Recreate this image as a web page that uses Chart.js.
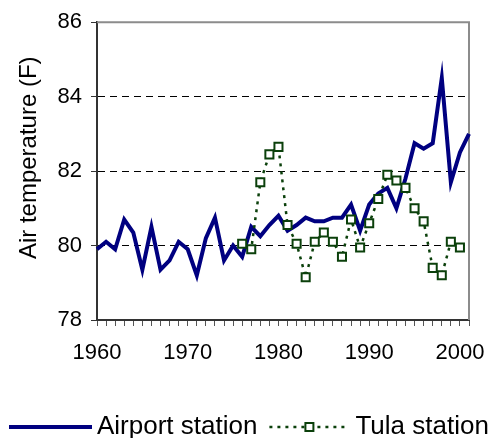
<!DOCTYPE html>
<html>
<head>
<meta charset="utf-8">
<script src="https://cdn.jsdelivr.net/npm/chart.js@4/dist/chart.umd.min.js"></script>
<style>
html, body { margin: 0; padding: 0; background: #fff; }
</style>
</head>
<body>
<canvas id="chart" width="500" height="438"></canvas>
<script>
const years = [
    1960, 1961, 1962, 1963, 1964, 1965, 1966, 1967, 1968, 1969,
    1970, 1971, 1972, 1973, 1974, 1975, 1976, 1977, 1978, 1979,
    1980, 1981, 1982, 1983, 1984, 1985, 1986, 1987, 1988, 1989,
    1990, 1991, 1992, 1993, 1994, 1995, 1996, 1997, 1998, 1999,
    2000, 2001
];

const airportTemps = [
    79.9, 80.1, 79.9, 80.7, 80.35, 79.35, 80.5, 79.35, 79.6, 80.1,
    79.9, 79.2, 80.2, 80.75, 79.6, 80.0, 79.7, 80.5, 80.25, 80.55,
    80.8, 80.4, 80.55, 80.75, 80.65, 80.65, 80.75, 80.75, 81.1, 80.4,
    81.1, 81.4, 81.55, 81.0, 81.8, 82.75, 82.6, 82.75, 84.5, 81.7,
    82.5, 83.0
];

// Tula record starts in 1976 and ends in 2000
const tulaTemps = [
    null, null, null, null, null, null, null, null, null, null,
    null, null, null, null, null, null, 80.05, 79.9, 81.7, 82.45,
    82.65, 80.55, 80.05, 79.15, 80.1, 80.35, 80.1, 79.7, 80.7, 79.95,
    80.6, 81.25, 81.9, 81.75, 81.55, 81.0, 80.65, 79.4, 79.2, 80.1,
    79.95, null
];

const labelYears = [1960, 1970, 1980, 1990, 2000];
const dashedGridValues = [80, 82, 84];

const FONT = '"Liberation Sans", Arial, sans-serif';

const framePlugin = {
    id: 'frame',
    beforeDatasetsDraw(chart) {
        const { ctx, chartArea: a } = chart;
        ctx.save();
        ctx.strokeStyle = '#8c8c8c';
        ctx.lineWidth = 2;
        ctx.beginPath();
        ctx.moveTo(a.left, a.top);
        ctx.lineTo(a.right, a.top);
        ctx.lineTo(a.right, a.bottom);
        ctx.stroke();
        ctx.restore();
    }
};

// legend with a marker in the middle of the dotted line, like the original
const bottomLegend = {
    id: 'bottomLegend',
    afterDraw(chart) {
        const ctx = chart.ctx;
        const [airport, tula] = chart.data.datasets;
        const lineY = 427;
        const textY = 434;
        let x = 9;

        ctx.save();
        ctx.font = '26px ' + FONT;
        ctx.fillStyle = '#000';
        ctx.textBaseline = 'alphabetic';

        ctx.strokeStyle = airport.borderColor;
        ctx.lineWidth = airport.borderWidth;
        ctx.beginPath();
        ctx.moveTo(x, lineY);
        ctx.lineTo(x + 83, lineY);
        ctx.stroke();
        x += 88;
        ctx.fillText(airport.label, x, textY);
        x += ctx.measureText(airport.label).width + 12;

        ctx.strokeStyle = tula.borderColor;
        ctx.lineWidth = tula.borderWidth;
        ctx.setLineDash(tula.borderDash);
        ctx.beginPath();
        ctx.moveTo(x, lineY);
        ctx.lineTo(x + 75, lineY);
        ctx.stroke();
        ctx.setLineDash([]);
        ctx.fillStyle = '#fff';
        ctx.lineWidth = tula.pointBorderWidth;
        ctx.beginPath();
        ctx.rect(x + 36, lineY - 4, 8, 8);
        ctx.fill();
        ctx.stroke();
        x += 86;
        ctx.fillStyle = '#000';
        ctx.fillText(tula.label, x, textY);
        ctx.restore();
    }
};

new Chart(document.getElementById('chart').getContext('2d'), {
    type: 'line',
    data: {
        labels: years.map(String),
        datasets: [{
            label: 'Airport station',
            data: airportTemps,
            borderColor: '#000080',
            borderWidth: 4,
            pointRadius: 0,
            tension: 0,
            order: 2
        }, {
            label: 'Tula station',
            data: tulaTemps,
            borderColor: '#0b400b',
            borderWidth: 2.5,
            borderDash: [3, 5],
            pointStyle: 'rect',
            pointRadius: 5.7,
            pointBorderWidth: 2,
            pointBackgroundColor: '#fff',
            pointBorderColor: '#0b400b',
            tension: 0,
            order: 1
        }]
    },
    options: {
        responsive: false,
        animation: false,
        devicePixelRatio: 1,
        layout: { padding: { top: 18, right: 31, left: 0, bottom: 0 } },
        plugins: {
            legend: { display: false },
            tooltip: { enabled: false }
        },
        scales: {
            x: {
                type: 'category',
                offset: false,
                afterFit: (scale) => { scale.height = 118; },
                grid: {
                    display: true,
                    drawOnChartArea: false,
                    drawTicks: true,
                    tickLength: 6,
                    tickColor: '#555',
                    tickWidth: 1
                },
                border: { display: true, color: '#333', width: 2 },
                ticks: {
                    autoSkip: false,
                    maxRotation: 0,
                    padding: 14,
                    color: '#000',
                    font: { family: FONT, size: 22 },
                    callback: (value, index) => labelYears.includes(years[index]) ? String(years[index]) : ''
                }
            },
            y: {
                min: 78,
                max: 86,
                afterFit: (scale) => { scale.width = 97; },
                grid: {
                    color: (ctx) => dashedGridValues.includes(ctx.tick.value) ? '#000' : 'rgba(0,0,0,0)',
                    lineWidth: 1,
                    tickLength: 6,
                    tickColor: '#333',
                    tickWidth: 1
                },
                border: { display: true, color: '#333', width: 2, dash: [7, 5] },
                ticks: {
                    stepSize: 2,
                    padding: 9,
                    color: '#000',
                    font: { family: FONT, size: 22 }
                },
                title: {
                    display: true,
                    text: '    Air temperature (F)',
                    color: '#000',
                    font: { family: FONT, size: 24 },
                    padding: { top: 15, bottom: 0 }
                }
            }
        }
    },
    plugins: [framePlugin, bottomLegend]
});
</script>
</body>
</html>
